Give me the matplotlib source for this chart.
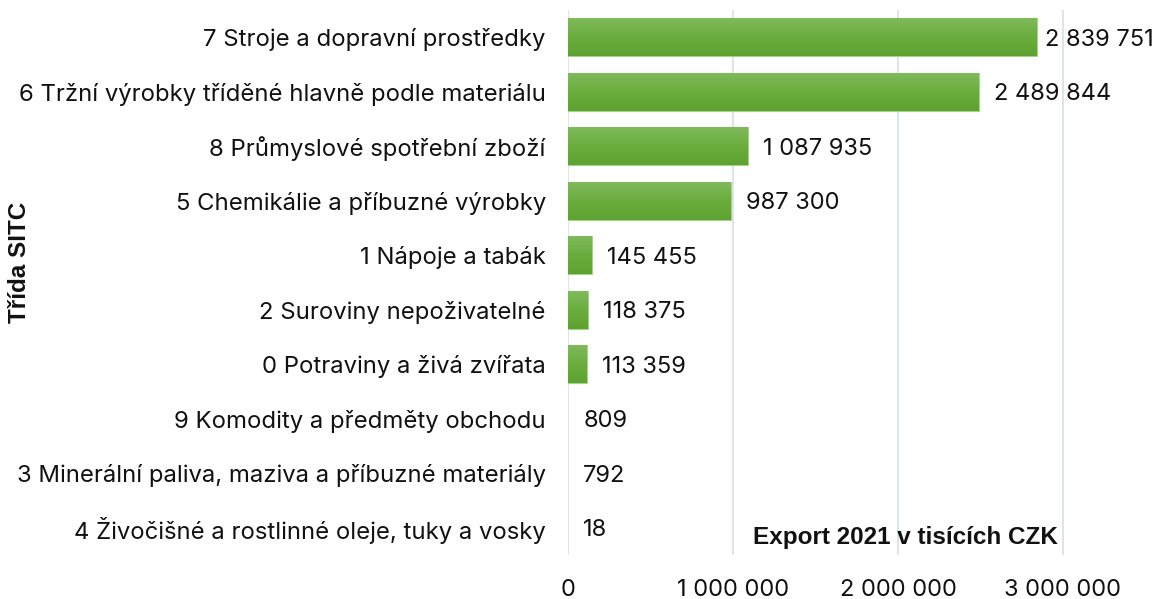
import matplotlib.pyplot as plt
import numpy as np
from matplotlib.colors import LinearSegmentedColormap

# ---données---
categories = [
    "7 Stroje a dopravní prostředky",
    "6 Tržní výrobky tříděné hlavně podle materiálu",
    "8 Průmyslové spotřební zboží",
    "5 Chemikálie a příbuzné výrobky",
    "1 Nápoje a tabák",
    "2 Suroviny nepoživatelné",
    "0 Potraviny a živá zvířata",
    "9 Komodity a předměty obchodu",
    "3 Minerální paliva, maziva a příbuzné materiály",
    "4 Živočišné a rostlinné oleje, tuky a vosky",
]
values = [2839751, 2489844, 1087935, 987300, 145455, 118375, 113359, 809, 792, 18]
xticks = [0, 1000000, 2000000, 3000000]

def fmt(v):
    return f"{v:,}".replace(",", " ")

plt.rcParams['font.family'] = ['Inter', 'DejaVu Sans']

fig = plt.figure(figsize=(11.59, 5.99), dpi=100)
ax = fig.add_axes([568 / 1159, 44 / 599, (1159 - 568) / 1159, 545 / 599])

n = len(categories)
ypos = np.arange(n)[::-1]
xmax = 3.582e6
lw = [0.8 if v > 10000 else 0 for v in values]
bars = ax.barh(ypos, values, height=0.69, color='#6aac3e', edgecolor='#a6d487', linewidth=lw, zorder=2)

# dégradé vertical dans chaque barre
cmap = LinearSegmentedColormap.from_list('g', ['#5ea232', '#6aad3d', '#80ba5c'])
grad = np.linspace(0, 1, 64).reshape(-1, 1)
for b in bars:
    x0, y0 = b.get_x(), b.get_y()
    w, h = b.get_width(), b.get_height()
    if w < 10000:
        continue
    im = ax.imshow(grad, extent=[x0, x0 + w, y0, y0 + h], origin='lower', cmap=cmap,
                   aspect='auto', zorder=2.5)
    im.set_clip_path(b)

ax.set_xlim(0, xmax)
ax.set_ylim(-0.5, n - 0.5)

# étiquettes de valeur (décalées si trop près du bord droit)
for y, v in zip(ypos, values):
    xt = min(v + 92000, xmax - 0.69e6)
    ax.text(xt, y - 0.05, fmt(v), va='center', ha='left', fontsize=17, color='#111111', zorder=3)

ax.set_yticks(ypos)
ax.set_yticklabels(categories, fontsize=17.2, color='#111111')
ax.set_xticks(xticks)
ax.set_xticklabels([fmt(t) for t in xticks], fontsize=17, color='#111111')
ax.tick_params(axis='both', length=0)
ax.tick_params(axis='y', pad=16)
ax.tick_params(axis='x', pad=17)
ax.grid(axis='x', color='#dfe3ea', linewidth=1.5, zorder=0)
ax.set_axisbelow(True)
for s in ax.spines.values():
    s.set_visible(False)

ax.text(2e6 / xmax + 0.012, 0.033, "Export 2021 v tisících CZK", transform=ax.transAxes,
        ha='center', va='center', fontsize=17.5, fontweight='bold', family='Liberation Sans',
        color='#111111')
fig.text(20 / 1159, 1 - 262 / 599, "Třída SITC", rotation=90, ha='center', va='center',
         fontsize=17.5, fontweight='bold', family='Liberation Sans', color='#111111')

fig.savefig("out.png", dpi=100)
